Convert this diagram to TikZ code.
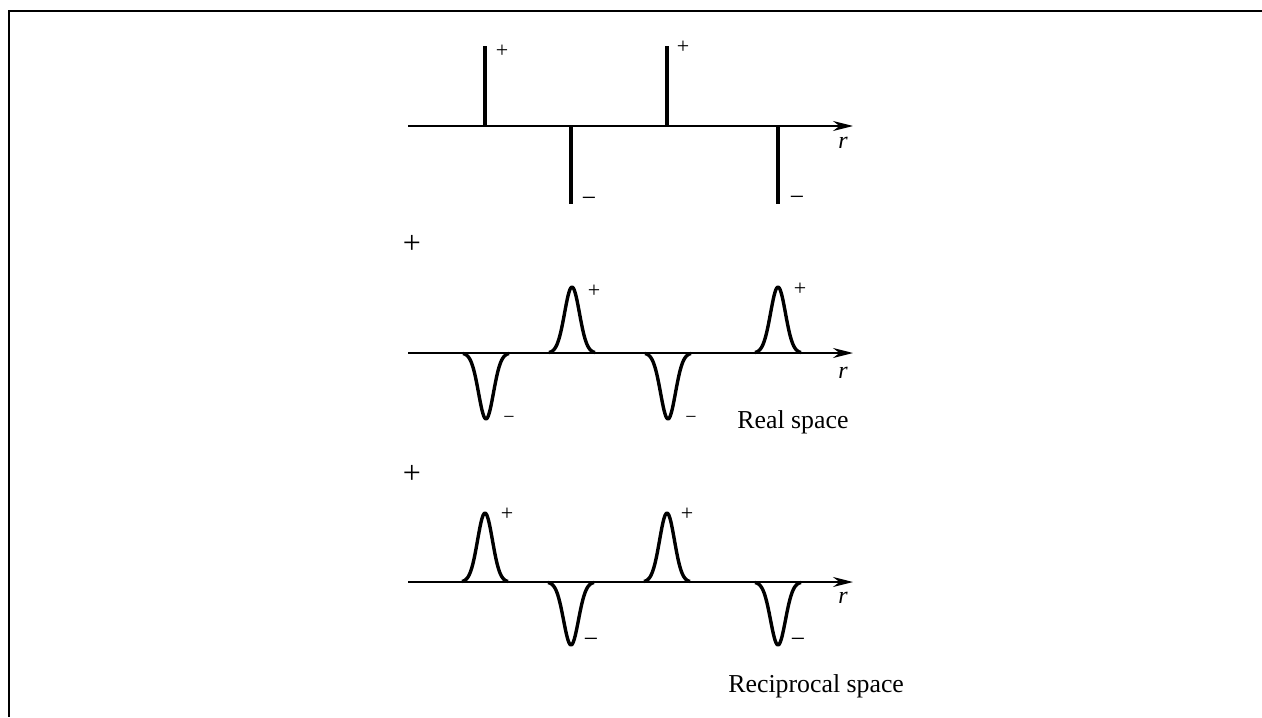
\documentclass[tikz,border=0pt]{standalone}
\usepackage{fontspec}
\setmainfont{Liberation Serif}
\usetikzlibrary{arrows.meta}
\tikzset{
  frame/.style     = {line width=1pt},
  axis/.style      = {line width=1pt, -{Stealth[length=10pt, width=5pt]}},
  spike/.style     = {line width=1.6pt},
  peak/.style      = {line width=1.7pt, line join=round, smooth},
  plussign/.style  = {inner sep=0pt, font=\fontsize{11}{13}\selectfont},
  minussign/.style = {inner sep=0pt, font=\fontsize{13}{15}\selectfont},
  smallminus/.style= {inner sep=0pt, font=\fontsize{10}{12}\selectfont},
  bigplus/.style   = {inner sep=0pt, font=\fontsize{16}{18}\selectfont},
  axislabel/.style = {inner sep=0pt, font=\fontsize{12}{14}\selectfont\itshape},
  spacelabel/.style= {inner sep=0pt, anchor=base west, font=\fontsize{12.9}{15}\selectfont},
}

\begin{document}
\begin{tikzpicture}[x=0.5pt, y=-0.5pt]
  \useasboundingbox (0,0) rectangle (1262,717);
  \draw[frame] (1262,11) -- (9,11) -- (9,717);

  % point charges
  \draw[axis] (408,126) -- (853,126);
  \foreach \p in {485,667} \draw[spike] (\p,126) -- (\p,46);
  \foreach \p in {571,778} \draw[spike] (\p,126) -- (\p,204);
  \node[plussign]  (pa1) at (502,51)  {+};
  \node[plussign]  (pa2) at (683,47)  {+};
  \node[minussign] (ma1) at (589,202) {−};
  \node[minussign] (ma2) at (797,201) {−};
  \node[axislabel] (ra)  at (843,143) {r};

  \node[bigplus] (plus1) at (412,244) {+};

  % screened charges, real space
  \draw[axis] (408,353) -- (853,353);
  \foreach \p in {572,778}
    \draw[peak] plot[domain=-23:23, samples=47] ({\p+\x},{353-66*exp(-1*(\x/10.5)*(\x/10.5))});
  \foreach \p in {486,668}
    \draw[peak] plot[domain=-23:23, samples=47] ({\p+\x},{353+66*exp(-1*(\x/10.5)*(\x/10.5))});
  \node[plussign]   (pb1) at (594,291) {+};
  \node[plussign]   (pb2) at (800,289) {+};
  \node[smallminus] (mb1) at (509,420) {−};
  \node[smallminus] (mb2) at (691,420) {−};
  \node[axislabel]  (rb)  at (843,373) {r};
  \node[spacelabel] (real) at (737,428) {Real space};

  \node[bigplus] (plus2) at (412,474) {+};

  % compensating charges, reciprocal space
  \draw[axis] (408,582) -- (853,582);
  \foreach \p in {485,667}
    \draw[peak] plot[domain=-23:23, samples=47] ({\p+\x},{582-69*exp(-1*(\x/10.5)*(\x/10.5))});
  \foreach \p in {571,778}
    \draw[peak] plot[domain=-23:23, samples=47] ({\p+\x},{582+63*exp(-1*(\x/10.5)*(\x/10.5))});
  \node[plussign]  (pc1) at (507,514) {+};
  \node[plussign]  (pc2) at (687,514) {+};
  \node[minussign] (mc1) at (591,643) {−};
  \node[minussign] (mc2) at (798,643) {−};
  \node[axislabel] (rc)  at (843,598) {r};
  \node[spacelabel] (recip) at (728,692) {Reciprocal space};
\end{tikzpicture}
\end{document}
